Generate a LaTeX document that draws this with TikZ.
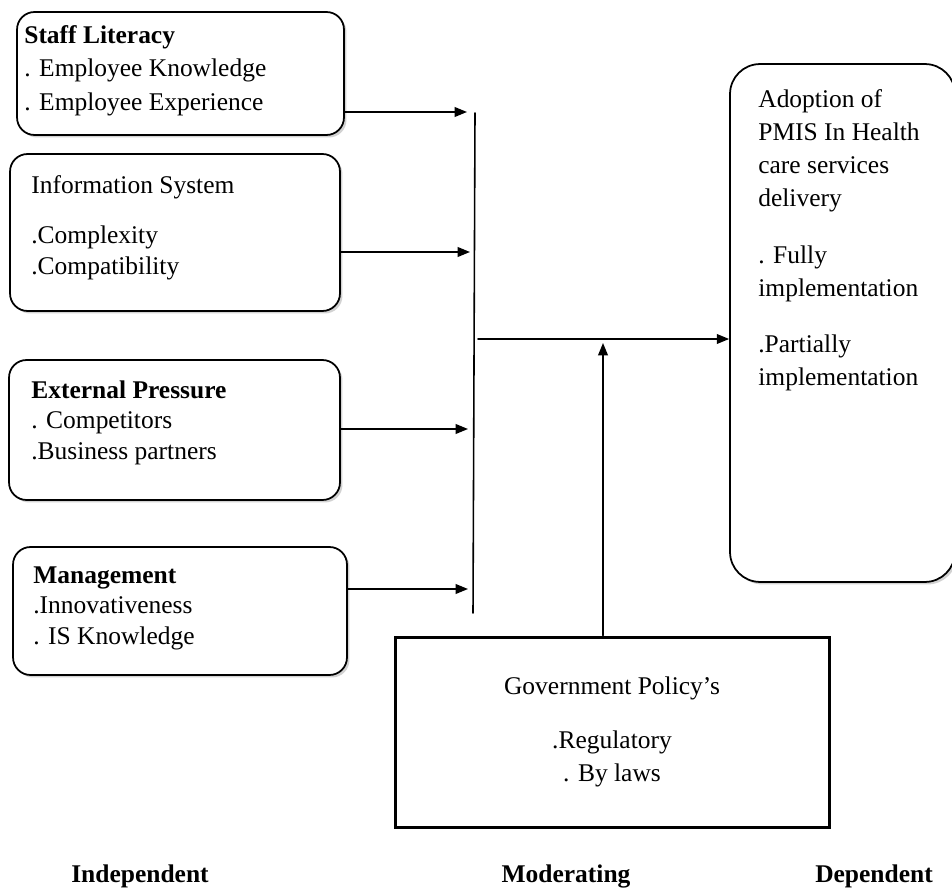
\documentclass[tikz,border=0pt]{standalone}
\usepackage{fontspec}
\setmainfont{Liberation Serif}
\usetikzlibrary{arrows.meta,shadows}
\begin{document}
\begin{tikzpicture}[x=0.02cm, y=-0.02cm, line cap=round]
    \tikzset{
      factor/.style={draw, rounded corners=0.35cm, line width=1pt, fill=white,
        drop shadow={shadow xshift=0.05cm, shadow yshift=-0.05cm, fill=black!35, opacity=0.5}},
      factortext/.style={anchor=north west, inner sep=0pt, align=left,
        font=\fontsize{14.5}{17.5}\selectfont},
      caption/.style={anchor=base, inner sep=0pt, font=\fontsize{14.5}{17.5}\selectfont\bfseries},
      link/.style={-{Triangle[length=7pt, width=5.5pt]}, line width=0.9pt}
    }
  % page size (pixels of the reference)
  \useasboundingbox (0,0) rectangle (952,888);

  % independent variables
  \node[factor, minimum width=6.54cm, minimum height=2.46cm] (lit) at (180.5,73.5) {};
  \node[factortext] (litT) at (24,25)
    {\textbf{Staff Literacy}\\[1.5pt]. Employee Knowledge\\[1.5pt]. Employee Experience};

  \node[factor, minimum width=6.6cm, minimum height=3.14cm] (info) at (175,232.5) {};
  \node[factortext] (infoT) at (31,175)
    {Information System\\[11pt].Complexity\\.Compatibility};

  \node[factor, minimum width=6.62cm, minimum height=2.8cm] (ext) at (174.5,430) {};
  \node[factortext] (extT) at (31,380)
    {\textbf{External Pressure}\\. Competitors\\.Business partners};

  \node[factor, minimum width=6.68cm, minimum height=2.56cm] (mgmt) at (180,611) {};
  \node[factortext] (mgmtT) at (33,566)
    {\textbf{Management}\\.Innovativeness\\. IS Knowledge};

  % dependent variable (its right side runs off the page)
  \node[factor, rounded corners=0.6cm, minimum width=4.5cm, minimum height=10.36cm] (adopt) at (842.5,323) {};
  \node[factortext, font=\fontsize{14.5}{18.8}\selectfont] (adoptT) at (758,89)
    {Adoption of\\PMIS In Health\\care services\\delivery\\[13.5pt]. Fully\\implementation\\[13pt].Partially\\implementation};

  % moderating variable
  \node[draw, line width=1.7pt, minimum width=8.7cm, minimum height=3.82cm] (gov) at (612.5,732.5) {};
  \node[factortext, anchor=north, align=center, font=\fontsize{14.5}{18.8}\selectfont] (govT) at (612,676)
    {Government Policy's\\[12pt].Regulatory\\. By laws};

  % collecting bar and arrows
  \coordinate (barTop) at (475,113);
  \coordinate (barBot) at (473,613);
  \draw[line width=0.9pt] (barTop) -- (barBot);

  \coordinate (in1) at (467,112);
  \coordinate (in2) at (470,252);
  \coordinate (in3) at (468,429);
  \coordinate (in4) at (468,589);
  \draw[link] (in1 -| lit.east)  -- (in1);
  \draw[link] (in2 -| info.east) -- (in2);
  \draw[link] (in3 -| ext.east)  -- (in3);
  \draw[link] (in4 -| mgmt.east) -- (in4);

  \coordinate (hub) at (478,339);
  \draw[link] (hub) -- (hub -| adopt.west);

  \coordinate (mod) at (603,343);
  \draw[link] (mod |- gov.north) -- (mod);

  % column captions
  \node[caption] (indep) at (140,882) {Independent};
  \node[caption] (moder) at (566,882) {Moderating};
  \node[caption] (dep)   at (874,882) {Dependent};
\end{tikzpicture}
\end{document}
